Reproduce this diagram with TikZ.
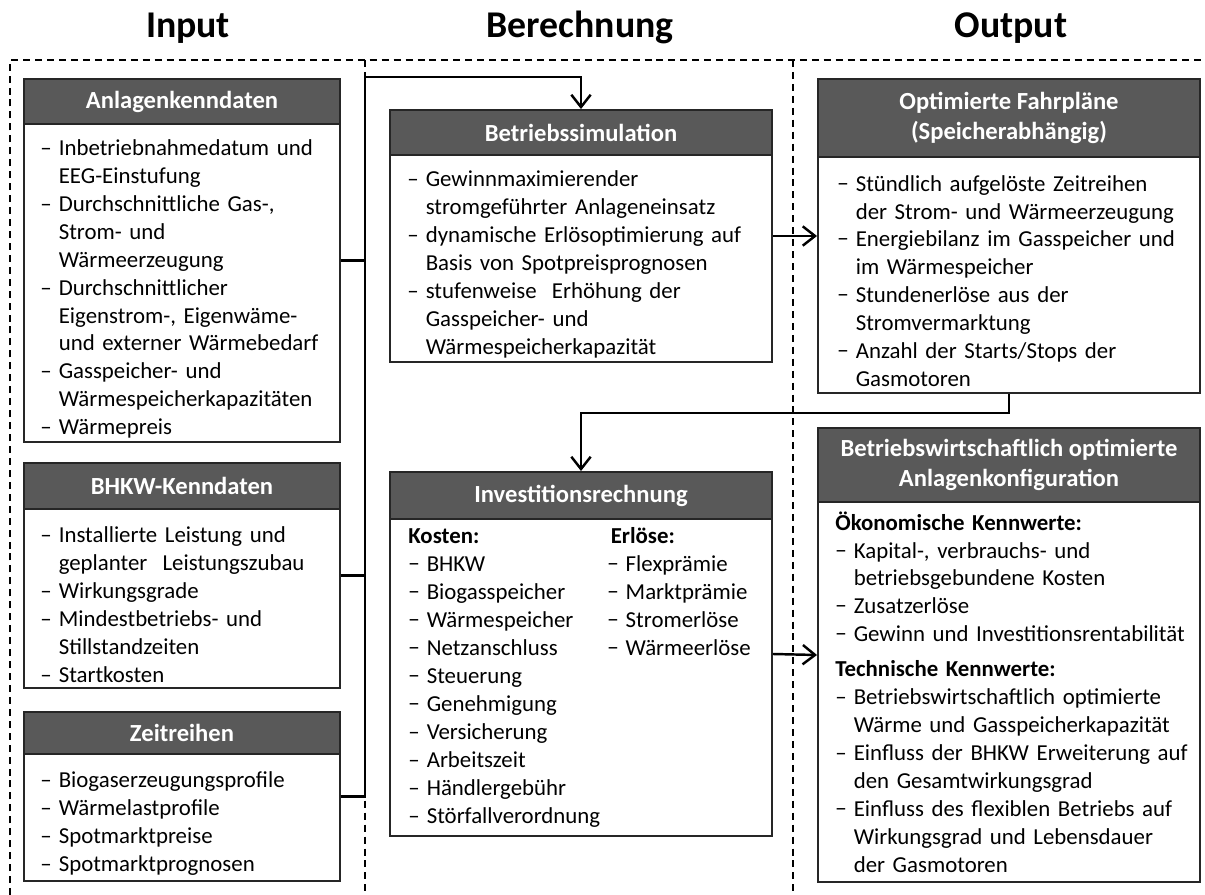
\documentclass[tikz,border=0pt]{standalone}
\usepackage{fontspec}
\setmainfont{Carlito}
\usetikzlibrary{arrows.meta,fit}

\definecolor{hdrgray}{RGB}{89,89,89}
\newcommand{\ed}{–}
\newcommand{\md}{−}
\newcommand{\lbr}{\hfil\break}
\newcommand{\itm}[2]{\par\hangindent=10.5pt\hangafter=1\noindent\makebox[10.5pt][l]{#1}#2\par}

\tikzset{
  coltitle/.style={font=\bfseries\fontsize{21.5}{26}\selectfont, anchor=base},
  panel/.style={draw=black!85, line width=1.1pt, inner sep=0pt},
  hdr/.style={panel, fill=hdrgray},
  hdrtxt/.style={text=white, align=center, inner sep=0pt,
    font=\bfseries\fontsize{14}{17.5}\selectfont},
  txt/.style={anchor=west, inner sep=0pt, align=left,
    font=\fontsize{13}{15.9}\selectfont},
  sep/.style={line width=0.8pt, dash pattern=on 4pt off 2.8pt},
  conn/.style={line width=1.4pt},
  arr/.style={conn, -{Straight Barb[length=7pt,width=11pt]}},
}

\begin{document}
\begin{tikzpicture}[x=0.02cm, y=-0.02cm]
    \useasboundingbox (0,0) rectangle (1205,895);
    % column titles
    \node[coltitle] (tin) at (188,38) {Input};
    \node[coltitle] (tber) at (580,38) {Berechnung};
    \node[coltitle] (tout) at (1011,38) {Output};
    % dashed frame
    \draw[sep] (10,895) |- (1205,60);
    \draw[sep] (365,60) -- (365,895);
    \draw[sep] (793,60) -- (793,895);

    % Input
    \node[panel, fit={(24,79) (340,442)}] (anl) {};
    \node[hdr, fit={(24,79) (340,124)}, label={[hdrtxt]center:Anlagenkenndaten}] (anlh) {};
    \node[txt, text width=6cm] (anlt) at (40,283) {%
        \itm{\ed}{Inbetriebnahmedatum und\lbr EEG-Einstufung}
        \itm{\ed}{Durchschnittliche Gas-,\lbr Strom- und\lbr Wärmeerzeugung}
        \itm{\ed}{Durchschnittlicher\lbr Eigenstrom-, Eigenwäme-\lbr und externer Wärmebedarf}
        \itm{\ed}{Gasspeicher- und\lbr Wärmespeicherkapazitäten}
        \itm{\ed}{Wärmepreis}};

    \node[panel, fit={(24,463) (340,688)}] (bhkw) {};
    \node[hdr, fit={(24,463) (340,509)}, label={[hdrtxt]center:BHKW-Kenndaten}] (bhkwh) {};
    \node[txt, text width=6cm] (bhkwt) at (40,598.5) {%
        \itm{\ed}{Installierte Leistung und\lbr geplanter\ \ Leistungszubau}
        \itm{\ed}{Wirkungsgrade}
        \itm{\ed}{Mindestbetriebs- und\lbr Stillstandzeiten}
        \itm{\ed}{Startkosten}};

    \node[panel, fit={(24,712) (340,881)}] (zr) {};
    \node[hdr, fit={(24,712) (340,754)}, label={[hdrtxt]center:Zeitreihen}] (zrh) {};
    \node[txt, text width=6cm] (zrt) at (40,817.5) {%
        \itm{\ed}{Biogaserzeugungsprofile}
        \itm{\ed}{Wärmelastprofile}
        \itm{\ed}{Spotmarktpreise}
        \itm{\ed}{Spotmarktprognosen}};

    % Berechnung
    \node[panel, fit={(390,110) (772,362)}] (bsim) {};
    \node[hdr, fit={(390,110) (772,155)}, label={[hdrtxt]center:Betriebssimulation}] (bsimh) {};
    \node[txt, text width=7.4cm] (bsimt) at (407,258.5) {%
        \itm{\ed}{Gewinnmaximierender\lbr stromgeführter Anlageneinsatz}
        \itm{\ed}{dynamische Erlösoptimierung auf\lbr Basis von Spotpreisprognosen}
        \itm{\ed}{stufenweise\ \ Erhöhung der\lbr Gasspeicher- und\lbr Wärmespeicherkapazität}};

    \node[panel, fit={(390,472) (772,836)}] (inv) {};
    \node[hdr, fit={(390,472) (772,519)}, label={[hdrtxt]center:Investitionsrechnung}] (invh) {};
    \node[txt] (invt) at (408,677.5) {%
        \parbox[t]{3.98cm}{\raggedright\noindent\textbf{Kosten:}
            \itm{\md}{BHKW}
            \itm{\md}{Biogasspeicher}
            \itm{\md}{Wärmespeicher}
            \itm{\md}{Netzanschluss}
            \itm{\md}{Steuerung}
            \itm{\md}{Genehmigung}
            \itm{\ed}{Versicherung}
            \itm{\ed}{Arbeitszeit}
            \itm{\ed}{Händlergebühr}
            \itm{\ed}{Störfallverordnung}}%
        \parbox[t]{3cm}{\raggedright\noindent\hspace*{2pt}\textbf{Erlöse:}
            \itm{\md}{Flexprämie}
            \itm{\md}{Marktprämie}
            \itm{\md}{Stromerlöse}
            \itm{\md}{Wärmeerlöse}}};

    % Output
    \node[panel, fit={(818,79) (1200,393)}] (opt) {};
    \node[hdr, fit={(818,79) (1200,157)},
          label={[hdrtxt]center:Optimierte Fahrpläne\\(Speicherabhängig)}] (opth) {};
    \node[txt, text width=7.4cm] (optt) at (837,275) {%
        \itm{\md}{Stündlich aufgelöste Zeitreihen\lbr der Strom- und Wärmeerzeugung}
        \itm{\md}{Energiebilanz im Gasspeicher und\lbr im Wärmespeicher}
        \itm{\md}{Stundenerlöse aus der\lbr Stromvermarktung}
        \itm{\md}{Anzahl der Starts/Stops der\lbr Gasmotoren}};

    \node[panel, fit={(818,428) (1200,882)}] (bw) {};
    \node[hdr, fit={(818,428) (1200,502)},
          label={[hdrtxt]center:Betriebswirtschaftlich optimierte\\Anlagenkonfiguration}] (bwh) {};
    \node[txt, text width=7.5cm] (bwt) at (835,692) {%
        \noindent\textbf{Ökonomische Kennwerte:}
        \itm{\md}{Kapital-, verbrauchs- und\lbr betriebsgebundene Kosten}
        \itm{\md}{Zusatzerlöse}
        \itm{\md}{Gewinn und Investitionsrentabilität}
        \vspace{4pt}\noindent\textbf{Technische Kennwerte:}
        \itm{\ed}{Betriebswirtschaftlich optimierte\lbr Wärme und Gasspeicherkapazität}
        \itm{\ed}{Einfluss der BHKW Erweiterung auf\lbr den Gesamtwirkungsgrad}
        \itm{\md}{Einfluss des flexiblen Betriebs auf\lbr Wirkungsgrad und Lebensdauer\lbr der Gasmotoren}};

    % connectors
    \coordinate (bustop) at (365,77);
    \draw[arr] (zr.east) -| (bustop) -| (bsim.north);
    \draw[conn] (anl.east) -- (anl.east -| bustop);
    \draw[conn] (bhkw.east) -- (bhkw.east -| bustop);
    \draw[arr] (bsim.east) -- (opt.west);
    \draw[arr] (opt.south) -- ++(0,19) -| (inv.north);
    \draw[arr] (inv.east) -- (bw.west);
\end{tikzpicture}
\end{document}
